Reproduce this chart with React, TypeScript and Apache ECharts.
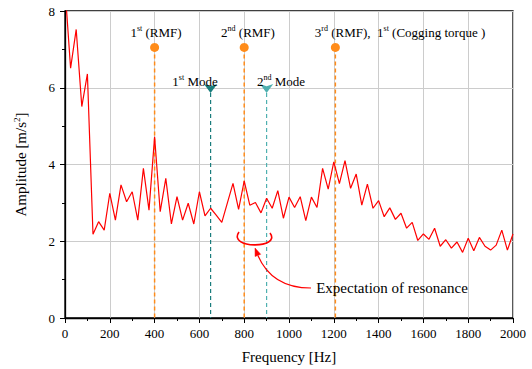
import React, { useEffect, useRef } from "react";
import * as echarts from "echarts";

const freqs = [
  0, 25, 50, 75, 100, 125, 150, 175, 200, 225, 250, 275, 300, 325, 350, 375, 400,
  425, 450, 475, 500, 525, 550, 575, 600, 625, 650, 675, 700, 725, 750, 775, 800,
  825, 850, 875, 900, 925, 950, 975, 1000, 1025, 1050, 1075, 1100, 1125, 1150, 1175, 1200,
  1225, 1250, 1275, 1300, 1325, 1350, 1375, 1400, 1425, 1450, 1475, 1500, 1525, 1550, 1575, 1600,
  1625, 1650, 1675, 1700, 1725, 1750, 1775, 1800, 1825, 1850, 1875, 1900, 1925, 1950, 1975, 2000,
];

const amplitude = [
  8.6, 6.51, 7.52, 5.51, 6.36, 2.18, 2.51, 2.29, 3.25, 2.55, 3.47, 3.03, 3.29, 2.55, 3.9, 2.81, 4.72,
  2.77, 3.64, 2.45, 3.16, 2.55, 2.99, 2.45, 3.29, 2.66, 2.86, 2.68, 2.49, 3.0, 3.51, 2.83, 3.57,
  2.94, 3.01, 2.74, 3.12, 2.86, 3.32, 2.6, 3.15, 2.88, 3.16, 2.54, 3.15, 2.88, 3.9, 3.36, 4.07,
  3.5, 4.1, 3.38, 3.75, 2.94, 3.49, 2.86, 3.06, 2.64, 2.87, 2.57, 2.73, 2.34, 2.49, 2.02, 2.19,
  2.05, 2.34, 1.87, 2.04, 1.82, 1.98, 1.71, 2.08, 1.75, 2.1, 1.87, 1.77, 1.9, 2.29, 1.77, 2.19,
];

const rmfFreqs = [400, 800, 1207];
const rmfLevel = 7.05;
const modeFreqs = [650, 900];
const modeColors = ["#1a7d7d", "#4fb0b0"];
const modeLevel = 5.86;

const xTicks = { min: 0, max: 2000, interval: 200 };
const yTicks = { min: 0, max: 8, interval: 2 };

const FONT = "Liberation Serif";
const ORANGE = "#ff8c1a";

const richBase = (size: number) => ({
  n: { fontFamily: FONT, fontSize: size, fill: "#000", color: "#000", lineHeight: size + 3 },
  s: { fontFamily: FONT, fontSize: Math.round(size * 0.62), fill: "#000", color: "#000", lineHeight: size + 3, verticalAlign: "top" },
});

const textEl = (x: number, y: number, text: string, size = 13) => ({
  type: "text",
  x,
  y,
  z: 100,
  style: {
    text,
    align: "center",
    verticalAlign: "middle",
    fill: "#000",
    font: `${size}px ${FONT}`,
    rich: richBase(size),
  },
});

export default function App() {
  const ref = useRef<HTMLDivElement>(null);
  useEffect(() => {
    document.body.style.margin = "0";
    const chart = echarts.init(ref.current!, null, { renderer: "svg" });

    const series: any[] = [
      {
        type: "line",
        data: freqs.map((f, i) => [f, amplitude[i]]),
        symbol: "none",
        clip: true,
        lineStyle: { color: "#ff0000", width: 1.2 },
        itemStyle: { color: "#ff0000" },
        z: 5,
      },
    ];
    rmfFreqs.forEach((f) => {
      series.push({
        type: "line",
        symbol: "circle",
        symbolSize: 9,
        data: [{ value: [f, rmfLevel] }, { value: [f, 0], symbol: "none" }],
        lineStyle: { color: ORANGE, width: 1.5, type: [4, 3] },
        itemStyle: { color: ORANGE },
        z: 4,
      });
    });
    modeFreqs.forEach((f, i) => {
      series.push({
        type: "line",
        symbol: "arrow",
        symbolRotate: 180,
        symbolSize: [10, 9],
        data: [{ value: [f, modeLevel] }, { value: [f, 0], symbol: "none" }],
        lineStyle: { color: modeColors[i], width: 1.2, type: [4, 3] },
        itemStyle: { color: modeColors[i] },
        z: 4,
      });
    });

    chart.setOption({
      animation: false,
      grid: { left: 65, right: 19, top: 11, bottom: 51, show: true, borderColor: "#000", borderWidth: 1.3, backgroundColor: "transparent" },
      xAxis: {
        type: "value",
        ...xTicks,
        name: "Frequency [Hz]",
        nameLocation: "middle",
        nameGap: 31,
        nameTextStyle: { fontFamily: FONT, fontSize: 15, color: "#000" },
        axisLine: { lineStyle: { color: "#000", width: 1.3 } },
        axisTick: { show: true, length: 5, lineStyle: { color: "#000", width: 1 } },
        minorTick: { show: true, splitNumber: 2, length: 3, lineStyle: { color: "#000", width: 1 } },
        axisLabel: { fontFamily: FONT, fontSize: 13, color: "#000", margin: 9, formatter: (v: number) => String(v) },
        splitLine: { show: true, lineStyle: { color: "#cccccc", width: 1 } },
      },
      yAxis: {
        type: "value",
        ...yTicks,
        name: "{n|Amplitude [m/s}{s|2}{n|]}",
        nameLocation: "middle",
        nameGap: 35,
        nameTextStyle: {
          rich: {
            n: { fontFamily: FONT, fontSize: 15, color: "#000", lineHeight: 18 },
            s: { fontFamily: FONT, fontSize: 9, color: "#000", lineHeight: 18, verticalAlign: "top" },
          },
        },
        axisLine: { show: true, lineStyle: { color: "#000", width: 1.3 } },
        axisTick: { show: true, length: 5, lineStyle: { color: "#000", width: 1 } },
        minorTick: { show: true, splitNumber: 2, length: 3, lineStyle: { color: "#000", width: 1 } },
        axisLabel: { fontFamily: FONT, fontSize: 13, color: "#000", margin: 10, formatter: (v: number) => String(v) },
        splitLine: { show: true, lineStyle: { color: "#cccccc", width: 1 } },
      },
      series,
      graphic: [
        textEl(156, 32, "{n|1}{s|st}{n| (RMF)}"),
        textEl(248, 32, "{n|2}{s|nd}{n| (RMF)}"),
        textEl(400, 32, "{n|3}{s|rd}{n| (RMF),  1}{s|st}{n| (Cogging torque )}"),
        textEl(195, 81, "{n|1}{s|st}{n| Mode}"),
        textEl(281, 81, "{n|2}{s|nd}{n| Mode}"),
        textEl(392, 288, "{n|Expectation of resonance}", 15),
        {
          type: "bezierCurve",
          z: 100,
          shape: { x1: 239, y1: 232, cpx1: 227, cpy1: 249, cpx2: 282, cpy2: 249, x2: 270, y2: 233 },
          style: { stroke: "#ff0000", lineWidth: 1.6, fill: null },
        },
        {
          type: "bezierCurve",
          z: 100,
          shape: { x1: 311, y1: 288, cpx1: 272, cpy1: 288, x2: 257.9, y2: 255.4 },
          style: { stroke: "#ff0000", lineWidth: 1.2, fill: null },
        },
        {
          type: "polygon",
          z: 100,
          shape: { points: [[255, 248], [260.7, 254.3], [255.1, 256.5]] },
          style: { fill: "#ff0000", stroke: "#ff0000", lineWidth: 0.5 },
        },
      ],
    });
    return () => chart.dispose();
  }, []);
  return <div ref={ref} style={{ width: 532, height: 369 }} />;
}
